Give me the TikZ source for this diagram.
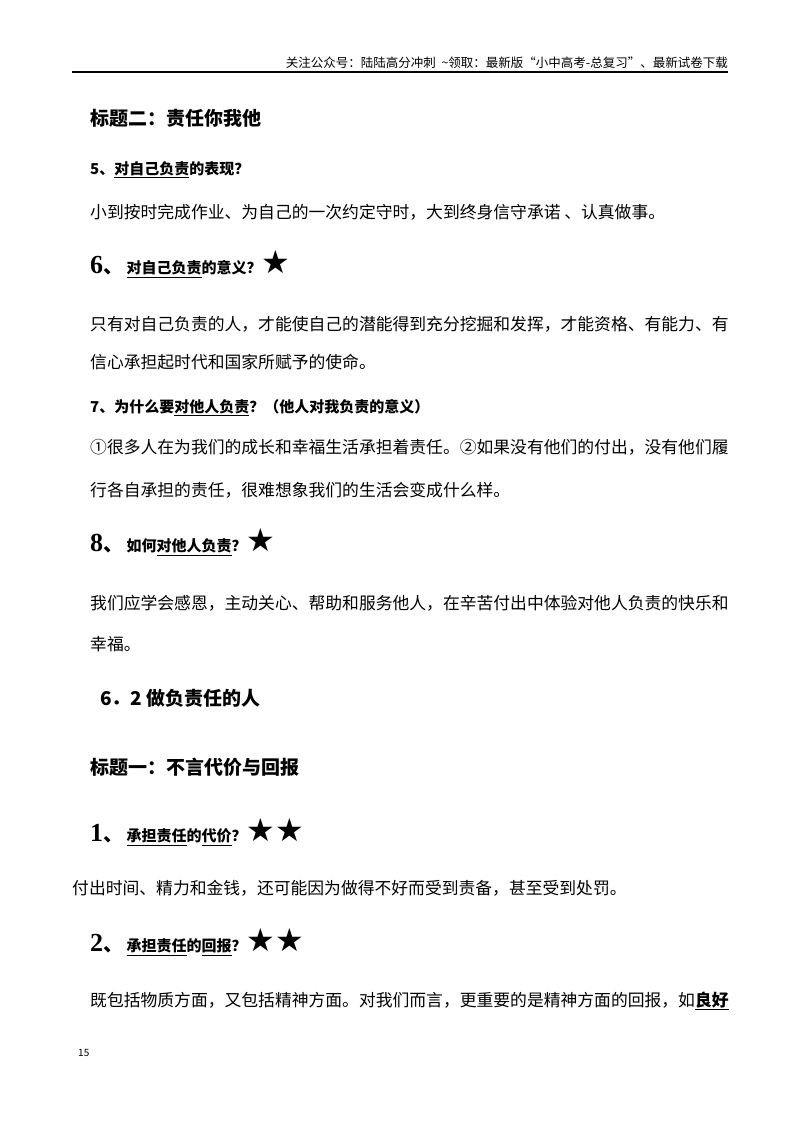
\documentclass[tikz,border=0pt]{standalone}
\usepackage{fontspec}
\setmainfont{Noto Sans CJK SC}
\newfontfamily\starf{DejaVu Sans}
\newfontfamily\numf{Liberation Serif}
\begin{document}
\begin{tikzpicture}[x=1pt,y=-1pt,
  txt/.style={anchor=west,inner sep=0pt,font=\fontsize{16.8}{18}\selectfont},
  hd/.style={anchor=west,inner sep=0pt,font=\fontsize{15}{16}\selectfont\bfseries},
  big/.style={anchor=west,inner sep=0pt,font=\fontsize{19}{20}\selectfont\bfseries}]
\useasboundingbox (0,0) rectangle (800,1132);
\node[anchor=east,inner sep=0pt,font=\fontsize{12.5}{13}\selectfont] (h) at (728,63) {关注公众号：陆陆高分冲刺\ \ \textasciitilde 领取：最新版“小中高考-总复习”、最新试卷下载};
\coordinate (r1) at (72,72); \coordinate (r2) at (728,72);
\draw[line width=1.2pt] (r1) -- (r2);
\node[big] (t2) at (90,118) {标题二：责任你我他};
\node[hd] (q5) at (90,170) {5、\underline{对自己负责}的表现？};
\node[txt] (a5) at (90,212) {小到按时完成作业、为自己的一次约定守时，大到终身信守承诺\ 、认真做事。};
\node[hd] (q6) at (90,264) {{\numf\fontsize{26}{26}\selectfont 6}{\fontsize{20}{22}\selectfont 、}\ \underline{对自己负责}的意义？{\starf\fontsize{32}{32}\selectfont ★}};
\node[txt] (a6a) at (90,324) {只有对自己负责的人，才能使自己的潜能得到充分挖掘和发挥，才能资格、有能力、有};
\node[txt] (a6b) at (90,362) {信心承担起时代和国家所赋予的使命。};
\node[hd] (q7) at (90,408) {7、为什么要\underline{对他人负责}？（他人对我负责的意义）};
\node[txt] (a7a) at (90,447) {①很多人在为我们的成长和幸福生活承担着责任。②如果没有他们的付出，没有他们履};
\node[txt] (a7b) at (90,490) {行各自承担的责任，很难想象我们的生活会变成什么样。};
\node[hd] (q8) at (90,542) {{\numf\fontsize{26}{26}\selectfont 8}{\fontsize{20}{22}\selectfont 、}\ 如何\underline{对他人负责}？{\starf\fontsize{32}{32}\selectfont ★}};
\node[txt] (a8a) at (90,603) {我们应学会感恩，主动关心、帮助和服务他人，在辛苦付出中体验对他人负责的快乐和};
\node[txt] (a8b) at (90,644) {幸福。};
\node[big] (s62) at (100,698) {6．2 做负责任的人};
\node[big] (t1) at (90,767) {标题一：不言代价与回报};
\node[hd] (q1) at (90,832) {{\numf\fontsize{26}{26}\selectfont 1}{\fontsize{20}{22}\selectfont 、}\ \underline{承担责任}的\underline{代价}？{\starf\fontsize{32}{32}\selectfont ★★}};
\node[txt] (a1) at (72,888) {付出时间、精力和金钱，还可能因为做得不好而受到责备，甚至受到处罚。};
\node[hd] (q2) at (90,942) {{\numf\fontsize{26}{26}\selectfont 2}{\fontsize{20}{22}\selectfont 、}\ \underline{承担责任}的\underline{回报}？{\starf\fontsize{32}{32}\selectfont ★★}};
\node[txt] (a2) at (90,1001) {既包括物质方面，又包括精神方面。对我们而言，更重要的是精神方面的回报，如\textbf{\underline{良好}}};
\node[anchor=west,inner sep=0pt,font=\fontsize{10}{11}\selectfont] (pg) at (78,1053) {15};
\end{tikzpicture}
\end{document}
